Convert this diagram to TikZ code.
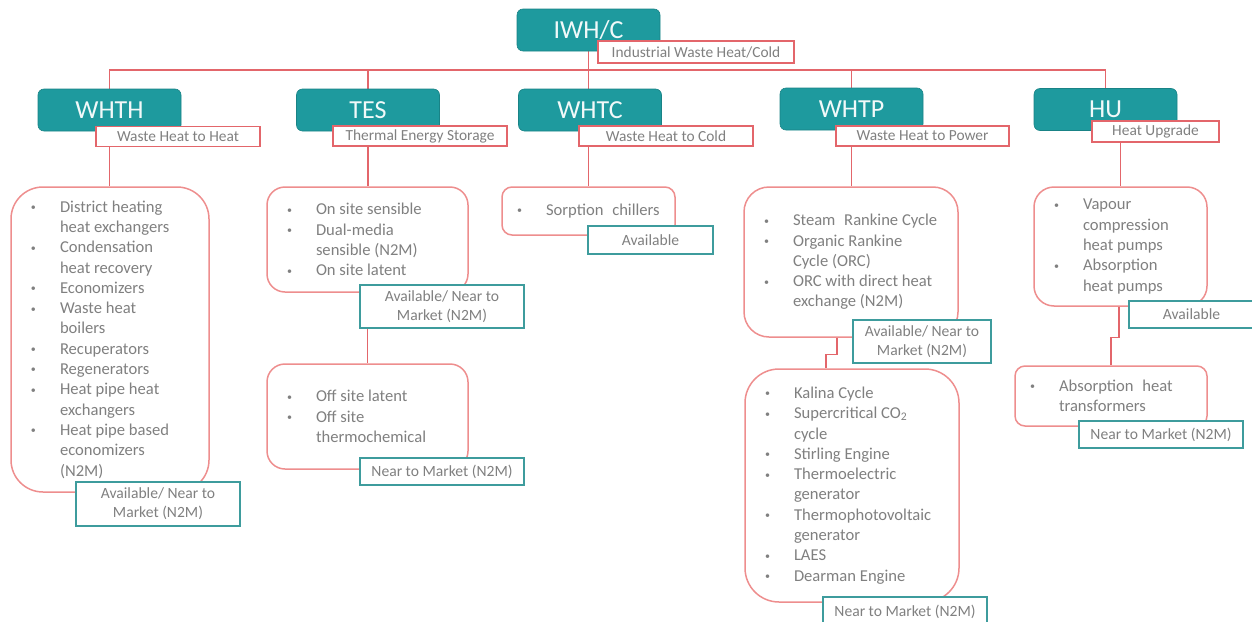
\documentclass[tikz,border=0pt]{standalone}
\usepackage{fontspec}
\setmainfont{Carlito}
\usetikzlibrary{backgrounds}

\definecolor{tealbox}{HTML}{1E9A9E}
\definecolor{redline}{HTML}{E3666B}
\definecolor{pinkline}{HTML}{EE8E8E}
\definecolor{tealline}{HTML}{3E9C9D}
\definecolor{greytext}{HTML}{808080}

\newcommand{\bul}[1]{\makebox[14.5pt][l]{\raisebox{0.8pt}{\fontsize{5}{5}\selectfont\textbullet}}\mbox{#1}}
\newcommand{\cnt}[1]{\hspace*{14.5pt}\mbox{#1}}

\tikzset{
  catbox/.style={fill=tealbox, draw=tealbox!85!black, line width=0.3pt, rounded corners=3pt,
    minimum width=71.5pt, minimum height=21pt, inner sep=0pt, text=white!94!tealbox,
    font=\fontsize{13}{15}\selectfont},
  catlabel/.style={draw=redline, fill=white, line width=0.7pt, minimum height=10pt, inner sep=0pt,
    text=greytext, font=\fontsize{7.7}{9}\selectfont},
  listbox/.style={draw=pinkline, fill=white, line width=0.75pt, align=flush left, inner xsep=10pt,
    inner ysep=0pt, text=greytext, font=\fontsize{8.3}{10.15}\selectfont},
  statbox/.style={draw=tealline, fill=white, line width=0.75pt, align=center, inner sep=0pt,
    text=greytext, font=\fontsize{7.8}{9.5}\selectfont},
  link/.style={draw=redline, line width=0.65pt}
}

\begin{document}
\begin{tikzpicture}[x=0.5pt, y=-0.5pt]
  \useasboundingbox (0,0) rectangle (1252,621);

  \node[catbox] (iwhc) at (588.5,30) {IWH/C};
  \node[catlabel, minimum width=98pt, minimum height=11pt] (iwhclab) at (696,52) {Industrial Waste Heat/Cold};
  \coordinate (bus) at (588,70);

  \node[catbox] (whth) at (109.5,110) {WHTH};
  \node[catlabel, minimum width=82pt] (whthlab) at (178,136.5) {Waste Heat to Heat};
  \node[catbox] (tes) at (368,110) {TES};
  \node[catlabel, minimum width=87pt] (teslab) at (420,136) {Thermal Energy Storage};
  \node[catbox] (whtc) at (590,110) {WHTC};
  \node[catlabel, minimum width=87pt] (whtclab) at (666,136) {Waste Heat to Cold};
  \node[catbox] (whtp) at (851.5,109) {WHTP};
  \node[catlabel, minimum width=86.5pt] (whtplab) at (922.5,136) {Waste Heat to Power};
  \node[catbox] (hu) at (1105.5,109.5) {HU};
  \node[catlabel, minimum width=63.5pt, minimum height=10.5pt] (hulab) at (1155.5,131.5) {Heat Upgrade};

  \node[listbox, rounded corners=16pt, minimum width=99pt, minimum height=152.5pt, text width=79pt] (whthlist) at (110,339.5) {
    \bul{District heating}\\ \cnt{heat exchangers}\\ \bul{Condensation}\\ \cnt{heat recovery}\\
    \bul{Economizers}\\ \bul{Waste heat}\\ \cnt{boilers}\\ \bul{Recuperators}\\ \bul{Regenerators}\\
    \bul{Heat pipe heat}\\ \cnt{exchangers}\\ \bul{Heat pipe based}\\ \cnt{economizers}\\ \cnt{(N2M)}};
  \node[statbox, minimum width=82pt, minimum height=22pt] (whthstat) at (158,504) {Available/ Near to\\Market (N2M)};

  \node[listbox, rounded corners=9pt, minimum width=100.5pt, minimum height=52.5pt, text width=80.5pt] (teslist1) at (367.5,239.5) {
    \bul{On site sensible}\\ \bul{Dual-media}\\ \cnt{sensible (N2M)}\\ \bul{On site latent}};
  \node[statbox, minimum width=82pt, minimum height=21.5pt] (tesstat1) at (442,306.5) {Available/ Near to\\Market (N2M)};
  \node[listbox, rounded corners=9pt, minimum width=100.5pt, minimum height=52.5pt, text width=80.5pt] (teslist2) at (367.5,416.5) {
    \bul{Off site latent}\\ \bul{Off site}\\ \cnt{thermochemical}};
  \node[statbox, minimum width=82pt, minimum height=13.5pt] (tesstat2) at (442,471.5) {Near to Market (N2M)};

  \node[listbox, rounded corners=5pt, inner xsep=7.5pt, minimum width=86.5pt, minimum height=24pt, text width=71.5pt] (whtclist) at (588.5,211) {
    \bul{Sorption\hspace{2.5pt} chillers}};
  \node[statbox, minimum width=62.5pt, minimum height=14pt] (whtcstat) at (650.5,240) {Available};

  \node[listbox, rounded corners=12.5pt, minimum width=107pt, minimum height=75pt, text width=87pt] (whtplist1) at (851,262) {
    \bul{Steam\hspace{2.5pt} Rankine Cycle}\\ \bul{Organic Rankine}\\ \cnt{Cycle (ORC)}\\ \bul{ORC with direct heat}\\ \cnt{exchange (N2M)}};
  \node[statbox, minimum width=69pt, minimum height=21.5pt] (whtpstat1) at (922,341.5) {Available/ Near to\\Market (N2M)};
  \node[listbox, rounded corners=17pt, minimum width=107pt, minimum height=116.5pt, text width=87pt] (whtplist2) at (852,485.5) {
    \bul{Kalina Cycle}\\ \bul{Supercritical CO\textsubscript{2}}\\ \cnt{cycle}\\ \bul{Stirling Engine}\\
    \bul{Thermoelectric}\\ \cnt{generator}\\ \bul{Thermophotovoltaic}\\ \cnt{generator}\\ \bul{LAES}\\ \bul{Dearman Engine}};
  \node[statbox, minimum width=82pt, minimum height=15pt] (whtpstat2) at (905,612) {Near to Market (N2M)};

  \node[listbox, rounded corners=10pt, minimum width=86.5pt, minimum height=59.5pt, text width=66.5pt] (hulist1) at (1120.5,246.5) {
    \bul{Vapour}\\ \cnt{compression}\\ \cnt{heat pumps}\\ \bul{Absorption}\\ \cnt{heat pumps}};
  \node[statbox, minimum width=62.5pt, minimum height=13.5pt] (hustat1) at (1191.5,314.5) {Available};
  \node[listbox, rounded corners=5pt, inner xsep=7.5pt, minimum width=96pt, minimum height=30pt, text width=81pt] (hulist2) at (1111,396) {
    \bul{Absorption\hspace{2.5pt} heat}\\ \cnt{transformers}};
  \node[statbox, minimum width=82pt, minimum height=13.5pt] (hustat2) at (1161,434.5) {Near to Market (N2M)};

  \begin{scope}[on background layer]
    \draw[link] (whth.north) |- (bus) -| (hu.north);
    \foreach \n in {tes,whtp}
      \draw[link] (\n.north) -- (\n.north |- bus);
    \draw[link] (iwhc.south) -- (iwhc.south |- whtclist.north);
    \draw[link] (whth.south) -- (whth.south |- whthlist.north);
    \draw[link] (tes.south) -- (tes.south |- teslist1.north);
    \draw[link] (teslist1.south) -- (teslist1.south |- teslist2.north);
    \draw[link] (whtp.south) -- (whtp.south |- whtplist1.north);
    \draw[link] ([xshift=-7pt]whtplist1.south) -- ++(0,17) -| ([xshift=-13pt]whtplist2.north);
    \draw[link] (hulist1.north |- hulab.south) -- (hulist1.north);
    \draw[link] ([xshift=-0.75pt]hulist1.south) -- ++(0,31) -| (hulist2.north);
  \end{scope}
\end{tikzpicture}
\end{document}
